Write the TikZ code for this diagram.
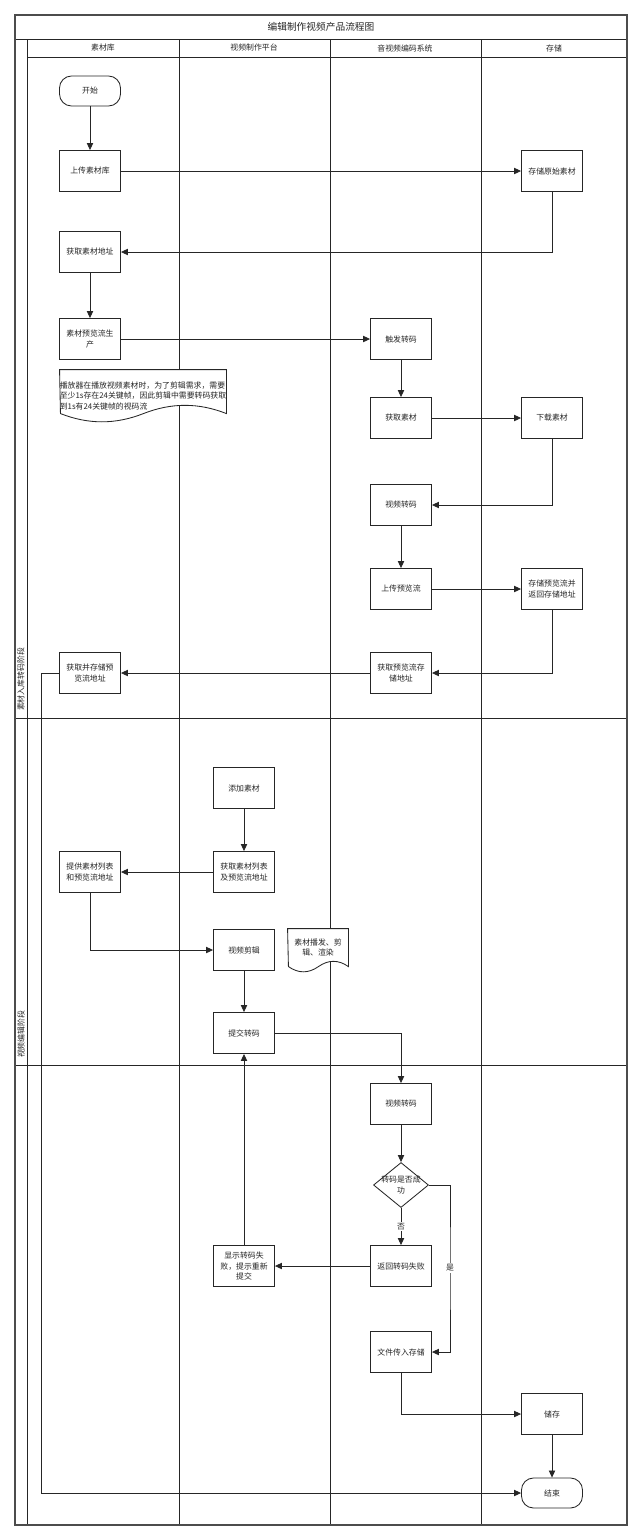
\documentclass[tikz,border=0pt]{standalone}
\usepackage{fontspec}
\setmainfont{Noto Sans CJK SC}
\usetikzlibrary{shapes.geometric, arrows.meta, backgrounds}

\begin{document}
\begin{tikzpicture}[x=0.025cm, y=-0.025cm, line width=0.6pt,
  every node/.style={font=\fontsize{5.6}{7.6}\selectfont, text=black!85},
  proc/.style={draw=black!85, fill=white, minimum width=1.525cm, minimum height=1.025cm, align=center, inner sep=1pt},
  term/.style={proc, rounded corners=0.3cm, minimum height=0.75cm},
  dec/.style={draw=black!85, fill=white, diamond, minimum width=1.375cm, minimum height=1.125cm, inner sep=0pt},
  doc/.style={inner sep=0pt, align=left},
  flow/.style={draw=black!85, -{Triangle[length=5pt, width=4.5pt]}},
  lane/.style={draw=black!85},
  lbl/.style={fill=white, inner sep=1pt}]
  \useasboundingbox (0,0) rectangle (640,1540);
  \coordinate (lft) at (41,0);
  \coordinate (yesx) at (450,1268);
  \node[font=\fontsize{6.9}{8}\selectfont] (title) at (321,27) {编辑制作视频产品流程图};
  \node (h1) at (103,48) {素材库};
  \node (h2) at (254,48) {视频制作平台};
  \node (h3) at (405,48) {音视频编码系统};
  \node (h4) at (554,48) {存储};
  \node[rotate=90, anchor=west] (ph1) at (21,716) {素材入库转码阶段};
  \node[rotate=90, anchor=west] (ph2) at (21,1063) {视频编辑阶段};

  \node[term] (start) at (90,91) {开始};
  \node[proc] (upload) at (90,171) {上传素材库};
  \node[proc] (store0) at (552,171) {存储原始素材};
  \node[proc] (getaddr) at (90,252) {获取素材地址};
  \node[proc] (preview) at (90,339) {素材预览流生\\产};
  \node[doc, minimum width=4.15cm, minimum height=1.3cm] (hint) at (143,396) {};
  \node[proc] (trig) at (401,339) {触发转码};
  \node[proc] (fetch) at (401,418) {获取素材};
  \node[proc] (dl) at (552,418) {下载素材};
  \node[proc] (tc1) at (401,505) {视频转码};
  \node[proc] (uppv) at (401,589) {上传预览流};
  \node[proc] (storepv) at (552,589) {存储预览流并\\返回存储地址};
  \node[proc] (getpv) at (401,673) {获取预览流存\\储地址};
  \node[proc] (saveaddr) at (90,673) {获取并存储预\\览流地址};
  \node[proc] (add) at (244,788) {添加素材};
  \node[proc] (list) at (244,872) {获取素材列表\\及预览流地址};
  \node[proc] (offer) at (90,872) {提供素材列表\\和预览流地址};
  \node[proc] (edit) at (244,950) {视频剪辑};
  \node[doc, minimum width=1.5cm, minimum height=0.95cm] (render) at (318,948) {};
  \node[proc] (submit) at (244,1033) {提交转码};
  \node[proc] (tc2) at (401,1104) {视频转码};
  \node[dec, label={[align=center]center:转码是否成\\功}] (chk) at (401,1185) {};
  \node[proc] (fail) at (401,1266) {返回转码失败};
  \node[proc] (showfail) at (244,1266) {显示转码失\\败，提示重新\\提交};
  \node[proc] (tostore) at (401,1352) {文件传入存储};
  \node[proc] (keep) at (552,1414) {储存};
  \node[term] (stop) at (552,1493) {结束};

  \draw[lane, fill=white] (hint.north west) -- (hint.north east) -- ++(0,44)
    .. controls +(-28,-11) and +(28,-11) .. ++(-83,0)
    .. controls +(-28,11) and +(28,11) .. ++(-83,0) -- cycle;
  \node[doc] (hinttext) at (hint) {播放器在播放视频素材时，为了剪辑需求，需要\\至少1s存在24关键帧，因此剪辑中需要转码获取\\到1s有24关键帧的视码流};
  \draw[lane, fill=white] (render.north west) -- (render.north east) -- ++(0,38)
    .. controls +(-10,-7) and +(10,-7) .. ++(-30,0)
    .. controls +(-10,7) and +(10,7) .. ++(-30,0) -- cycle;
  \node[doc, align=center, font=\fontsize{5.6}{7.2}\selectfont] (rendertext) at ([yshift=0.02cm]render) {素材播发、剪\\辑、渲染};

  \draw[flow] (start) -- (upload);
  \draw[flow] (upload) -- (store0);
  \draw[flow] (store0) |- (getaddr);
  \draw[flow] (getaddr) -- (preview);
  \draw[flow] (preview) -- (trig);
  \draw[flow] (trig) -- (fetch);
  \draw[flow] (fetch) -- (dl);
  \draw[flow] (dl) |- (tc1);
  \draw[flow] (tc1) -- (uppv);
  \draw[flow] (uppv) -- (storepv);
  \draw[flow] (storepv) |- (getpv);
  \draw[flow] (getpv) -- (saveaddr);
  \draw[flow] (saveaddr.west) -- (saveaddr.west -| lft) |- (stop);
  \draw[flow] (add) -- (list);
  \draw[flow] (list) -- (offer);
  \draw[flow] (offer) |- (edit);
  \draw[flow] (edit) -- (submit);
  \draw[flow] (submit) -| (tc2);
  \draw[flow] (tc2) -- (chk);
  \draw[flow] (chk) -- node[lbl] (nolbl) {否} (fail);
  \draw[flow] (chk.east) -| (yesx) |- (tostore);
  \node[lbl] (yeslbl) at (yesx) {是};
  \draw[flow] (fail) -- (showfail);
  \draw[flow] (showfail) -- (submit);
  \draw[flow] (tostore) |- (keep);
  \draw[flow] (keep) -- (stop);

  \begin{scope}[on background layer]
    \draw[lane] (15,39) -- (627,39);
    \draw[lane] (27,57) -- (627,57);
    \foreach \x in {27,179,330,481} \draw[lane] (\x,39) -- (\x,1525);
    \foreach \y in {718,1065} \draw[lane] (15,\y) -- (627,\y);
    \draw[black!70, line width=0.9pt] (15,15) rectangle (627,1525);
  \end{scope}
\end{tikzpicture}
\end{document}
